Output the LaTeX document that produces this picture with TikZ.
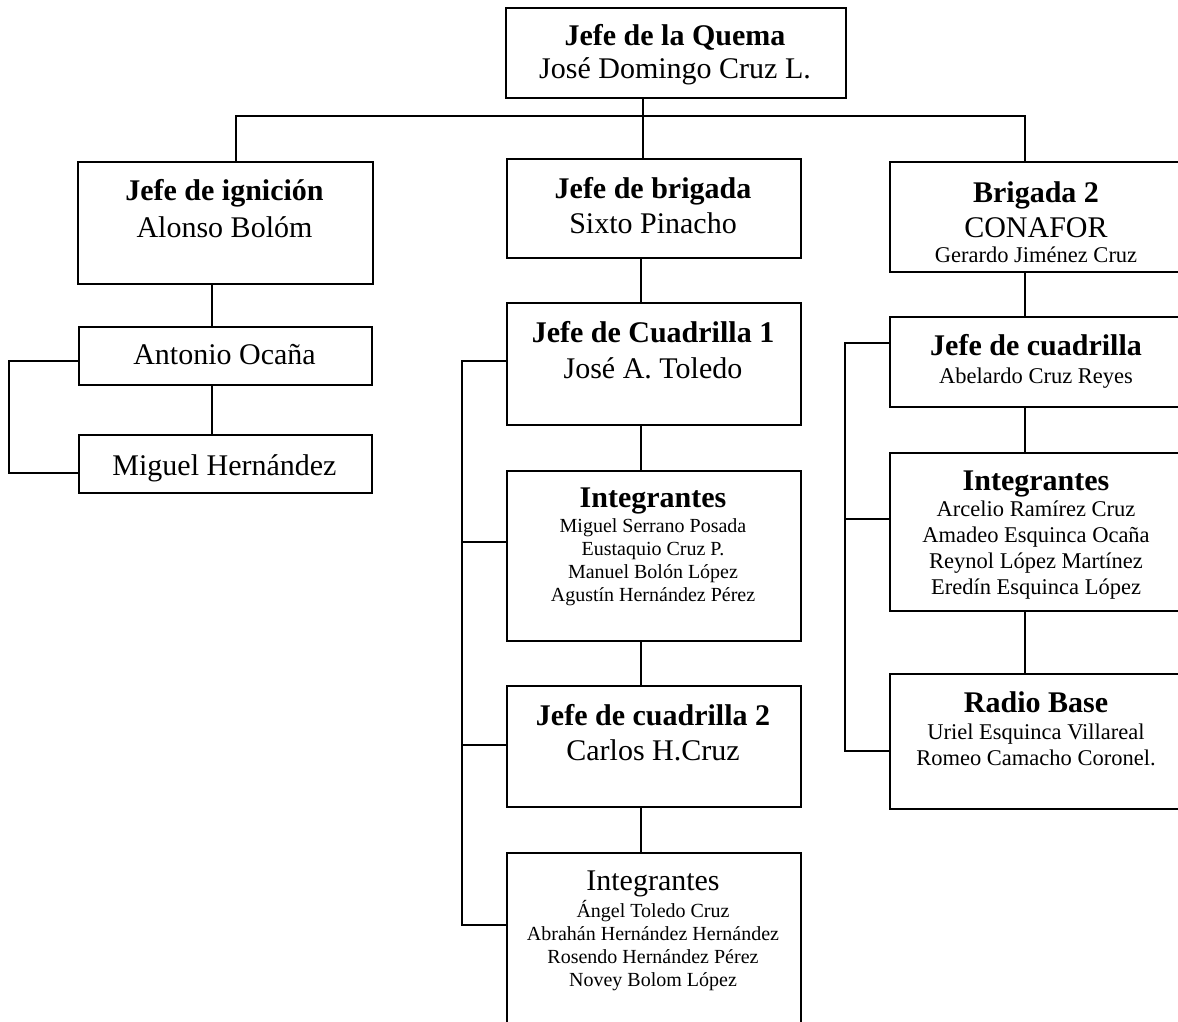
\documentclass[tikz,border=0pt]{standalone}
\usepackage{fontspec}
\setmainfont{Liberation Serif}
\newcommand{\boxhead}[1]{{\fontsize{30}{35}\selectfont\bfseries #1}}
\tikzset{
  box/.style 2 args={draw, line width=2pt, inner sep=0pt, anchor=north west, minimum width=#1, minimum height=#2},
  txt/.style={align=center, inner sep=0pt, anchor=north, font=\fontsize{30}{35}\selectfont},
  smalltxt/.style={txt, font=\fontsize{20}{23}\selectfont},
  midtxt/.style={txt, font=\fontsize{22.5}{26}\selectfont},
  link/.style={line width=2pt}
}
\begin{document}
\begin{tikzpicture}[x=1pt, y=-1pt]
\useasboundingbox (0,0) rectangle (1178,1021);
\clip (0,0) rectangle (1178,1021);
\node[box={340pt}{90pt}] (quema) at (505,7) {};
\node[box={295pt}{122pt}] (ign) at (77,161) {};
\node[box={294pt}{99pt}] (brig) at (506,158) {};
\node[box={295pt}{110pt}] (brig2) at (889,161) {};
\node[box={293pt}{58pt}] (ant) at (78,326) {};
\node[box={293pt}{58pt}] (mig) at (78,434) {};
\node[box={294pt}{122pt}] (c1) at (506,302) {};
\node[box={294pt}{170pt}] (int1) at (506,470) {};
\node[box={294pt}{121pt}] (c2) at (506,685) {};
\node[box={294pt}{200pt}] (int2) at (506,852) {};
\node[box={295pt}{90pt}] (rc) at (889,316) {};
\node[box={295pt}{158pt}] (rint) at (889,452) {};
\node[box={295pt}{135pt}] (radio) at (889,673) {};

\node[txt] (quema-t) at (675,24) {\textbf{Jefe de la Quema}\\[-2pt] José Domingo Cruz L.};
\node[txt] (ign-t) at (224.5,179) {\textbf{Jefe de ignición}\\[2pt] Alonso Bolóm};
\node[txt] (brig-t) at (653,177) {\textbf{Jefe de brigada}\\ Sixto Pinacho};
\node[txt] (brig2-t) at (1036,181) {\textbf{Brigada 2}\\ CONAFOR\\[-9.5pt] {\fontsize{22.5}{26}\selectfont Gerardo Jiménez Cruz}};
\node[txt] (ant-t) at (224.5,344) {Antonio Ocaña};
\node[txt] (mig-t) at (224.5,454) {Miguel Hernández};
\node[txt] (c1-t) at (653,321) {\textbf{Jefe de Cuadrilla 1}\\[1pt] José A. Toledo};
\node[smalltxt] (int1-t) at (653,488) {\boxhead{Integrantes}\\[2pt] Miguel Serrano Posada\\ Eustaquio Cruz P.\\ Manuel Bolón López\\ Agustín Hernández Pérez};
\node[txt] (c2-t) at (653,704) {\textbf{Jefe de cuadrilla 2}\\ Carlos H.Cruz};
\node[smalltxt] (int2-t) at (653,871) {{\fontsize{30}{35}\selectfont Integrantes}\\[2pt] Ángel Toledo Cruz\\ Abrahán Hernández Hernández\\ Rosendo Hernández Pérez\\ Novey Bolom López};
\node[txt] (rc-t) at (1036,334) {\textbf{Jefe de cuadrilla}\\[-6.5pt] {\fontsize{22.5}{26}\selectfont Abelardo Cruz Reyes}};
\node[midtxt] (rint-t) at (1036,471) {\boxhead{Integrantes}\\ Arcelio Ramírez Cruz\\ Amadeo Esquinca Ocaña\\ Reynol López Martínez\\ Eredín Esquinca López};
\node[midtxt] (radio-t) at (1036,691) {\boxhead{Radio Base}\\[1.5pt] Uriel Esquinca Villareal\\ Romeo Camacho Coronel.};

\coordinate (bus) at (643,116);
\coordinate (busL) at (236,116);
\coordinate (busR) at (1025,116);
\draw[link] (quema.south -| bus) -- (bus);
\draw[link] (ign.north -| busL) -- (busL) -- (busR) -- (brig2.north -| busR);
\draw[link] (bus) -- (brig.north -| bus);

\coordinate (lcol) at (212,0);
\coordinate (lb1) at (9,361);
\coordinate (lb2) at (9,473);
\draw[link] (ign.south -| lcol) -- (ant.north -| lcol);
\draw[link] (ant.south -| lcol) -- (mig.north -| lcol);
\draw[link] (ant.west |- lb1) -- (lb1) -- (lb2) -- (mig.west |- lb2);

\coordinate (ccol) at (641,0);
\coordinate (cb1) at (462,361);
\coordinate (cb2) at (462,542);
\coordinate (cb3) at (462,745);
\coordinate (cb4) at (462,925);
\draw[link] (brig.south -| ccol) -- (c1.north -| ccol);
\draw[link] (c1.south -| ccol) -- (int1.north -| ccol);
\draw[link] (int1.south -| ccol) -- (c2.north -| ccol);
\draw[link] (c2.south -| ccol) -- (int2.north -| ccol);
\draw[link] (c1.west |- cb1) -- (cb1) -- (cb4) -- (int2.west |- cb4);
\draw[link] (cb2) -- (int1.west |- cb2);
\draw[link] (cb3) -- (c2.west |- cb3);

\coordinate (rcol) at (1025,0);
\coordinate (rb1) at (845,343);
\coordinate (rb2) at (845,519);
\coordinate (rb3) at (845,751);
\draw[link] (brig2.south -| rcol) -- (rc.north -| rcol);
\draw[link] (rc.south -| rcol) -- (rint.north -| rcol);
\draw[link] (rint.south -| rcol) -- (radio.north -| rcol);
\draw[link] (rc.west |- rb1) -- (rb1) -- (rb3) -- (radio.west |- rb3);
\draw[link] (rb2) -- (rint.west |- rb2);
\end{tikzpicture}
\end{document}
